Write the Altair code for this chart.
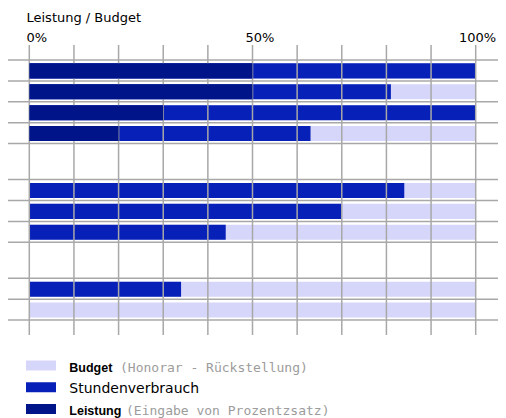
import altair as alt
import pandas as pd

# ---- data ----
row_group = [0, 0, 0, 0, 1, 1, 1, 2, 2]
row_index = [0, 1, 2, 3, 4, 5, 6, 7, 8]
budget = [100, 100, 100, 100, 100, 100, 100, 100, 100]
stunden = [100, 81, 100, 63, 84, 70, 44, 34, 0]
leistung = [50, 50, 30, 20, 0, 0, 0, 0, 0]
grid_ticks = [0, 10, 20, 30, 40, 50, 60, 70, 80, 90, 100]
label_ticks = [0, 50, 100]
legend_items = ["Budget", "Stundenverbrauch", "Leistung"]
legend_notes = ["(Honorar - Rückstellung)", "", "(Eingabe von Prozentzsatz)"]
axis_title = "Leistung / Budget"

# ---- styling ----
C_BUDGET = "#d6d6fa"
C_STUNDEN = "#0620b8"
C_LEISTUNG = "#00148a"
C_GRID = "#a8a8a8"
C_NOTE = "#9c9c9c"
FONT = "DejaVu Sans"
FONT_BOLD = "Liberation Sans"
FONT_NOTE = "DejaVu Sans Mono"
NOTE_X = {"Budget": 112, "Leistung": 118}

ROW_PX = 20.9          # pixel height of one row
GAP = 36 / ROW_PX      # extra space between groups (in row units)
PLOT_H = 373
PLOT_W = 490
TOP_PAD = 37
Y0 = -(60 - 45) / ROW_PX
Y_DOMAIN = [Y0, Y0 + PLOT_H / ROW_PX]
PX_PER_PCT = 4.464
X0 = -(29.3 - 8) / PX_PER_PCT
X_DOMAIN = [X0, X0 + PLOT_W / PX_PER_PCT]

df = pd.DataFrame({
    "row": row_index, "group": row_group,
    "budget": budget, "stunden": stunden, "leistung": leistung,
})
df["slot"] = df["row"] + df["group"] * GAP

# horizontal separator lines: top of every row + bottom of each group's last row
line_vals = list(df["slot"])
for g in sorted(set(row_group)):
    line_vals.append(df[df["group"] == g]["slot"].max() + 1)
lines_df = pd.DataFrame({"line": line_vals})

xs = alt.Scale(domain=X_DOMAIN, nice=False, zero=False)
ys = alt.Scale(domain=Y_DOMAIN, nice=False, zero=False, reverse=True)

xax = alt.Axis(
    orient="top", values=label_ticks, grid=False, ticks=False, domain=False,
    labelExpr="datum.value + '%'", labelFont=FONT, labelFontSize=13,
    labelColor="black", labelBaseline="alphabetic", labelPadding=4,
    labelAlign="center", labelFlush=False, labelOverlap=False,
    labelOffset={"condition": {"test": "datum.value == 100", "value": 1.3}, "value": 7},
    title=axis_title, titleX=18, titleY=-23.5, titleAlign="left",
    titleBaseline="alphabetic", titleFont=FONT, titleFontSize=13,
    titleFontWeight="normal", titleColor="black", titleAngle=0,
)

base = alt.Chart(df).transform_calculate(
    y0="datum.slot + 0.16", y1="datum.slot + 0.88", x0="0"
)


def bar_layer(field, color):
    return base.transform_filter(f"datum.{field} > 0").mark_rect(color=color).encode(
        x=alt.X("x0:Q", scale=xs, axis=xax),
        x2=alt.X2(f"{field}:Q"),
        y=alt.Y("y0:Q", scale=ys, axis=None),
        y2=alt.Y2("y1:Q"),
    )


budget_layer = bar_layer("budget", C_BUDGET)
stunden_layer = bar_layer("stunden", C_STUNDEN)
leistung_layer = bar_layer("leistung", C_LEISTUNG)

vrules = alt.Chart(pd.DataFrame({"v": grid_ticks})).mark_rule(
    color=C_GRID, strokeWidth=1.5
).encode(
    x=alt.X("v:Q", scale=xs, axis=xax),
    y=alt.value(0), y2=alt.value(290),
)

hrules = alt.Chart(lines_df).mark_rule(color=C_GRID, strokeWidth=1.5).encode(
    y=alt.Y("line:Q", scale=ys, axis=None)
)

main = alt.layer(budget_layer, stunden_layer, vrules, leistung_layer, hrules)

# ---- legend ----
leg_df = pd.DataFrame({"item": legend_items, "note": legend_notes})
ly = alt.Y(
    "item:N", sort=legend_items, axis=None,
    scale=alt.Scale(type="band", domain=legend_items, range=[315.5, 369],
                    paddingInner=11.75 / 21.75, paddingOuter=0),
)
swatch = alt.Chart(leg_df).mark_rect().encode(
    x=alt.value(18), x2=alt.value(48), y=ly,
    color=alt.Color("item:N", legend=None,
                    scale=alt.Scale(domain=legend_items,
                                    range=[C_BUDGET, C_STUNDEN, C_LEISTUNG])),
)
bold_items = alt.Chart(leg_df).transform_filter("datum.note != ''").mark_text(
    align="left", baseline="alphabetic", dy=6, font=FONT_BOLD, fontSize=12.5,
    fontWeight="bold", color="black"
).encode(x=alt.value(61.3), y=ly, text="item:N")
plain_items = alt.Chart(leg_df).transform_filter("datum.note == ''").mark_text(
    align="left", baseline="alphabetic", dy=6, font=FONT, fontSize=14, color="black"
).encode(x=alt.value(61.3), y=ly, text="item:N")


def note_layer(item):
    return alt.Chart(leg_df).transform_filter(f"datum.item == '{item}'").mark_text(
        align="left", baseline="alphabetic", dy=6, font=FONT_NOTE, fontSize=13,
        color=C_NOTE
    ).encode(x=alt.value(NOTE_X[item]), y=ly, text="note:N")


legend = alt.layer(swatch, bold_items, plain_items,
                   note_layer("Budget"), note_layer("Leistung"))

chart = alt.layer(main, legend).resolve_scale(y="independent", color="independent").properties(
    width=PLOT_W, height=PLOT_H,
    autosize=alt.AutoSizeParams(type="none"),
    padding={"left": 0, "top": TOP_PAD, "right": 0, "bottom": 0},
).configure_view(stroke=None)

chart.save("out.html", embed_options={"renderer": "svg", "actions": False})
